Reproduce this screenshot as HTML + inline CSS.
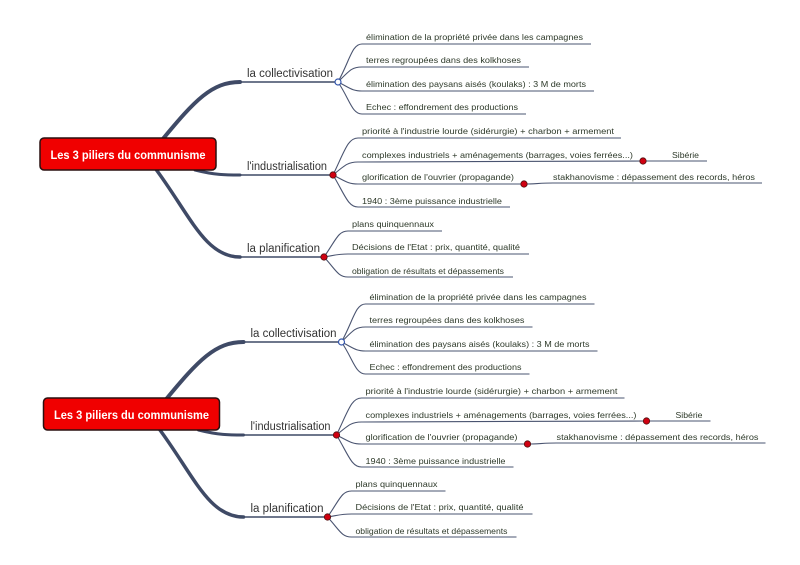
<!DOCTYPE html>
<html><head><meta charset="utf-8"><style>
html,body{margin:0;padding:0;background:#fff;width:800px;height:565px;overflow:hidden}
svg{display:block}
.l{font-family:"Liberation Sans",sans-serif;font-size:8.6px;fill:#2e3a2a}
.m{font-family:"Liberation Sans",sans-serif;font-size:11.5px;fill:#333}
.ln{stroke:#4a5470;stroke-width:1.1;fill:none}
.br{stroke:#3f4a66;fill:none;stroke-linecap:round}
</style></head><body>
<svg width="800" height="565" viewBox="0 0 800 565" xmlns="http://www.w3.org/2000/svg">
<defs>
<g id="map">
  <!-- main branches -->
  <path class="br" stroke-width="4" d="M162,140 C195,100 212,82 240,82"/>
  <path class="br" stroke-width="1.6" d="M238,82 L338,82"/>
  <path class="br" stroke-width="3" d="M195,170 C215,175 225,175 240,175"/>
  <path class="br" stroke-width="1.6" d="M238,175 L333,175"/>
  <path class="br" stroke-width="3.5" d="M155,168 C190,215 205,257 240,257"/>
  <path class="br" stroke-width="1.6" d="M238,257 L324,257"/>
  <!-- root -->
  <rect x="40" y="138" width="176" height="32" rx="4" ry="4" fill="#f00000" stroke="#2a1010" stroke-width="1.5"/>
  <text x="128" y="159" text-anchor="middle" font-family="Liberation Sans,sans-serif" font-weight="bold" font-size="11.5" fill="#fff" textLength="155" lengthAdjust="spacingAndGlyphs">Les 3 piliers du communisme</text>
  <!-- main labels -->
  <text class="m" x="247" y="77" textLength="86" lengthAdjust="spacingAndGlyphs">la collectivisation</text>
  <text class="m" x="247" y="170" textLength="80" lengthAdjust="spacingAndGlyphs">l'industrialisation</text>
  <text class="m" x="247" y="252" textLength="73" lengthAdjust="spacingAndGlyphs">la planification</text>

  <!-- collectivisation leaves -->
  <path class="ln" d="M338,82 C350,60 352,44 362,44 L591,44"/>
  <path class="ln" d="M338,82 C350,70 352,67 362,67 L529,67"/>
  <path class="ln" d="M338,82 C350,88 352,91 362,91 L594,91"/>
  <path class="ln" d="M338,82 C350,100 352,114 362,114 L526,114"/>
  <circle cx="338" cy="82" r="3" fill="#fff" stroke="#3355aa" stroke-width="1.2"/>
  <text class="l" x="366" y="40" textLength="217" lengthAdjust="spacingAndGlyphs">élimination de la propriété privée dans les campagnes</text>
  <text class="l" x="366" y="63" textLength="155" lengthAdjust="spacingAndGlyphs">terres regroupées dans des kolkhoses</text>
  <text class="l" x="366" y="87" textLength="220" lengthAdjust="spacingAndGlyphs">élimination des paysans aisés (koulaks) : 3 M de morts</text>
  <text class="l" x="366" y="110" textLength="152" lengthAdjust="spacingAndGlyphs">Echec : effondrement des productions</text>

  <!-- industrialisation leaves -->
  <path class="ln" d="M333,175 C345,150 348,138 358,138 L621,138"/>
  <path class="ln" d="M333,175 C345,165 348,162 358,162 L643,161 L707,161"/>
  <path class="ln" d="M333,175 C345,181 348,184 358,184 L524,184 C535,184 540,183 553,183 L762,183"/>
  <path class="ln" d="M333,175 C345,195 348,207 358,207 L510,207"/>
  <circle cx="333" cy="175" r="3.2" fill="#d00010" stroke="#501010" stroke-width="0.8"/>
  <circle cx="643" cy="161" r="3.2" fill="#d00010" stroke="#501010" stroke-width="0.8"/>
  <circle cx="524" cy="184" r="3.2" fill="#d00010" stroke="#501010" stroke-width="0.8"/>
  <text class="l" x="362" y="134" textLength="252" lengthAdjust="spacingAndGlyphs">priorité à l'industrie lourde (sidérurgie) + charbon + armement</text>
  <text class="l" x="362" y="158" textLength="271" lengthAdjust="spacingAndGlyphs">complexes industriels + aménagements (barrages, voies ferrées...)</text>
  <text class="l" x="672" y="158" textLength="27" lengthAdjust="spacingAndGlyphs">Sibérie</text>
  <text class="l" x="362" y="180" textLength="152" lengthAdjust="spacingAndGlyphs">glorification de l'ouvrier (propagande)</text>
  <text class="l" x="553" y="180" textLength="202" lengthAdjust="spacingAndGlyphs">stakhanovisme : dépassement des records, héros</text>
  <text class="l" x="362" y="204" textLength="140" lengthAdjust="spacingAndGlyphs">1940 : 3ème puissance industrielle</text>

  <!-- planification leaves -->
  <path class="ln" d="M324,257 C336,240 338,231 348,231 L442,231"/>
  <path class="ln" d="M324,257 C336,255 338,254 348,254 L529,254"/>
  <path class="ln" d="M324,257 C336,270 338,277 348,277 L513,277"/>
  <circle cx="324" cy="257" r="3.2" fill="#d00010" stroke="#501010" stroke-width="0.8"/>
  <text class="l" x="352" y="227" textLength="82" lengthAdjust="spacingAndGlyphs">plans quinquennaux</text>
  <text class="l" x="352" y="250" textLength="168" lengthAdjust="spacingAndGlyphs">Décisions de l'Etat : prix, quantité, qualité</text>
  <text class="l" x="352" y="274" textLength="152" lengthAdjust="spacingAndGlyphs">obligation de résultats et dépassements</text>
</g>
</defs>
<use href="#map"/>
<use href="#map" transform="translate(3.5,260)"/>
</svg>
</body></html>
